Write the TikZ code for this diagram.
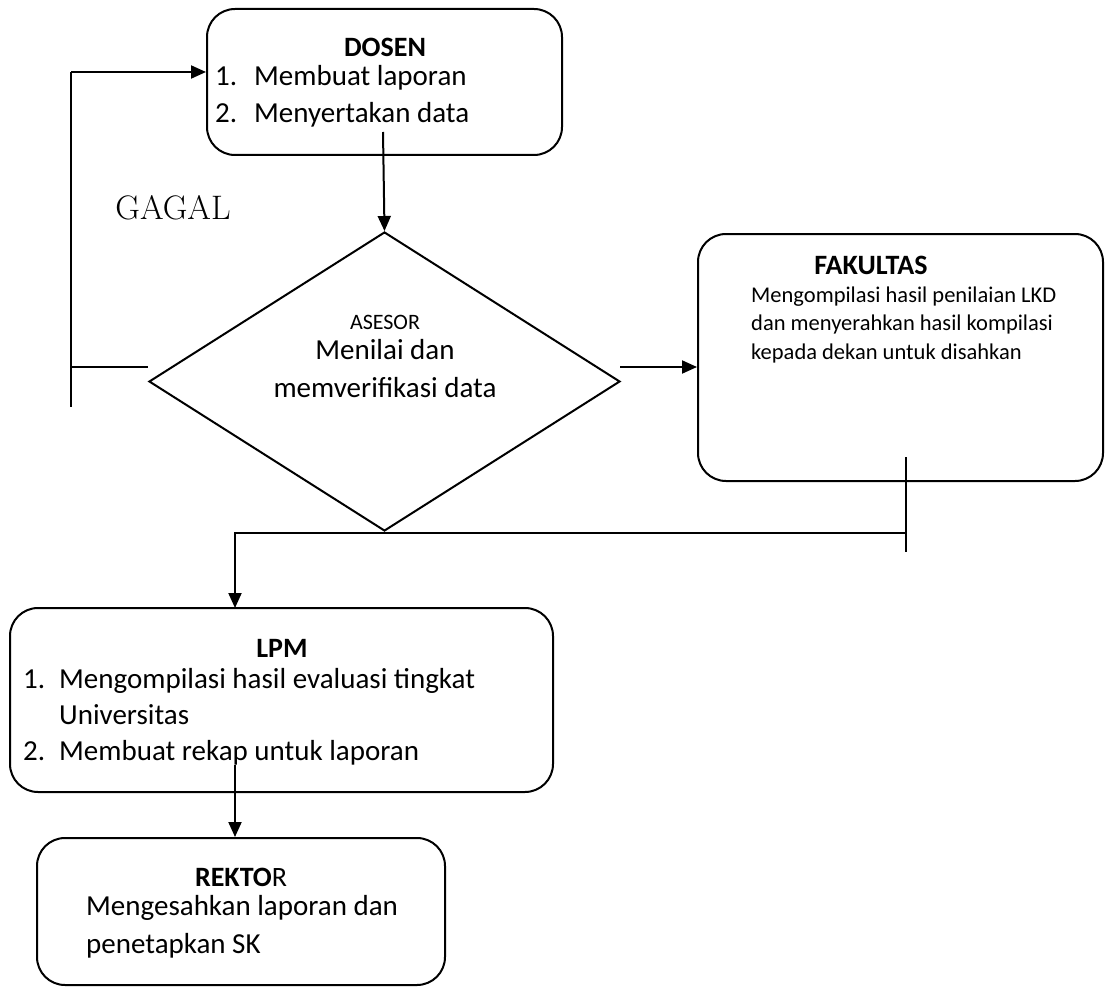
\documentclass[tikz,border=0pt]{standalone}
\usepackage{fontspec}
\newfontfamily\calib{Carlito}
\usetikzlibrary{shapes.geometric,arrows.meta,calc}
\begin{document}
\begin{tikzpicture}[x=1pt,y=-1pt,
  box/.style={draw, line width=2pt, rounded corners=28pt, inner sep=0pt},
  ln/.style={line width=2pt},
  arr/.style={line width=2pt, -{Triangle[length=15pt,width=13pt]}},
  txt/.style={inner sep=0pt, anchor=mid, font=\calib\fontsize{29}{35}\selectfont},
  ttl/.style={inner sep=0pt, anchor=center, font=\calib\bfseries\fontsize{28}{34}\selectfont},
  item/.style={txt, anchor=mid west},
  small/.style={inner sep=0pt, anchor=mid west, font=\calib\fontsize{22.5}{27}\selectfont},
]
\useasboundingbox (0,0) rectangle (1105,987);

% boxes
\node[box, minimum width=355pt, minimum height=146pt] (dosen) at (384.5,82) {};
\node[draw, diamond, line width=2pt, inner sep=0pt, minimum width=471pt, minimum height=299pt] (dia) at (384.5,381.5) {};
\node[box, minimum width=405pt, minimum height=247pt] (fak) at (900.5,357.5) {};
\node[box, minimum width=543pt, minimum height=184pt] (lpm) at (281.5,700) {};
\node[box, minimum width=408pt, minimum height=147pt] (rek) at (241,911.5) {};

% texts
\node[ttl] (dosenT) at (385,47) {DOSEN};
\node[item] (dosen1) at (215,83) {\makebox[39pt][l]{1.}Membuat laporan};
\node[item] (dosen2) at (215,120) {\makebox[39pt][l]{2.}Menyertakan data};

\node[inner sep=0pt, anchor=center, font=\fontsize{34}{40}\selectfont] (gagal) at (173,208) {GAGAL};

\node[inner sep=0pt, anchor=center, font=\calib\fontsize{22}{26}\selectfont] (asesorT) at (385,322) {ASESOR};
\node[txt] (as1) at (385,357) {Menilai dan};
\node[txt] (as2) at (385,395) {memverifikasi data};

\node[ttl] (fakT) at (871,265) {FAKULTAS};
\node[small] (fak1) at (751,300) {Mengompilasi hasil penilaian LKD};
\node[small] (fak2) at (751,328) {dan menyerahkan hasil kompilasi};
\node[small] (fak3) at (751,357) {kepada dekan untuk disahkan};

\node[ttl] (lpmT) at (282,648) {LPM};
\node[item] (lpm1) at (23,686) {\makebox[36pt][l]{1.}Mengompilasi hasil evaluasi tingkat};
\node[item] (lpm1b) at (59,722) {Universitas};
\node[item] (lpm2) at (23,758) {\makebox[36pt][l]{2.}Membuat rekap untuk laporan};

\node[ttl] (rekT) at (241,877) {\textbf{REKTO}\textmd{R}};
\node[item] (rek1) at (86,913) {Mengesahkan laporan dan};
\node[item] (rek2) at (86,951) {penetapkan SK};

% connectors
\coordinate (gtop) at (71,72);
\coordinate (gbot) at (71,407);
\coordinate (gmid) at (71,367);
\draw[ln] (gtop) -- (gbot);
\draw[arr] (gtop) -- (gtop -| dosen.west);
\draw[ln] (gmid) -- (gmid -| dia.west);

\coordinate (dstart) at (383,132);
\draw[arr] (dstart) -- (dia.north);

\coordinate (rstart) at (620,367);
\draw[arr] (rstart) -- (rstart -| fak.west);

\coordinate (ftop) at (906,457);
\coordinate (fbot) at (906,552);
\coordinate (hj) at (906,533);
\coordinate (lpmin) at (235,608);
\draw[ln] (ftop) -- (fbot);
\draw[arr] (hj) -| (lpmin);

\coordinate (lstart) at (235,765);
\draw[arr] (lstart) -- (lstart |- rek.north);
\end{tikzpicture}
\end{document}
